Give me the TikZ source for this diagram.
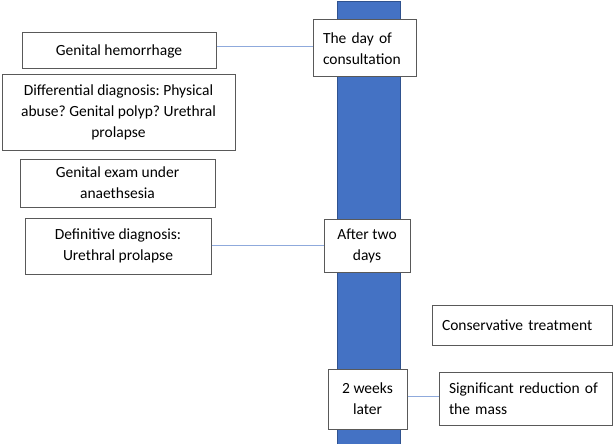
\documentclass[tikz,border=0pt]{standalone}
\usepackage{fontspec}
\setmainfont{Carlito}
\frenchspacing
\definecolor{barblue}{HTML}{4472C4}
\definecolor{bardark}{HTML}{2F528F}
\definecolor{linkblue}{HTML}{8FAADC}
\definecolor{boxgray}{HTML}{595959}
\begin{document}
\begin{tikzpicture}[x=1pt,y=-1pt,
  tbox/.style={draw=boxgray, line width=1pt, fill=white, inner sep=0pt, font=\fontsize{15.5}{21}\selectfont},
  lbox/.style={tbox, inner xsep=10pt, align=left},
  link/.style={draw=linkblue, line width=1pt}]
\useasboundingbox (0,0) rectangle (613,444);
\fill[barblue, draw=bardark, line width=0.8pt] (337,1) rectangle (400,446);
% timeline boxes
\node[lbox, text width=83pt, minimum height=57pt] (cons) at (364.5,48.5) {The day of\\consultation};
\node[tbox, minimum width=86pt, minimum height=53pt, align=center] (two) at (367,245.5) {After two\\days};
\node[tbox, minimum width=79pt, minimum height=60pt, align=center] (weeks) at (367.5,399) {2 weeks\\later};
% left boxes
\node[tbox, minimum width=194pt, minimum height=36pt] (hem) at (119,51) {Genital hemorrhage};
\node[tbox, minimum width=233pt, minimum height=75pt, align=center] (diff) at (118.5,112.5) {Differential diagnosis: Physical\\abuse? Genital polyp? Urethral\\prolapse};
\node[tbox, minimum width=195pt, minimum height=48pt, align=center] (exam) at (117.5,183) {Genital exam under\\anaethsesia};
\node[tbox, minimum width=186pt, minimum height=56pt, align=center] (def) at (118,246) {Definitive diagnosis:\\Urethral prolapse};
% right boxes
\node[lbox, text width=160pt, minimum height=40pt] (conserv) at (522,325) {Conservative treatment};
\node[lbox, text width=153pt, minimum height=53pt] (sig) at (525.5,398.5) {Significant reduction of\\the mass};
% connectors
\draw[link] (hem.east |- 0,47) -- (cons.west |- 0,47);
\draw[link] (def.east |- 0,245) -- (two.west |- 0,245);
\draw[link] (weeks.east |- 0,396) -- (sig.west |- 0,396);
\end{tikzpicture}
\end{document}
